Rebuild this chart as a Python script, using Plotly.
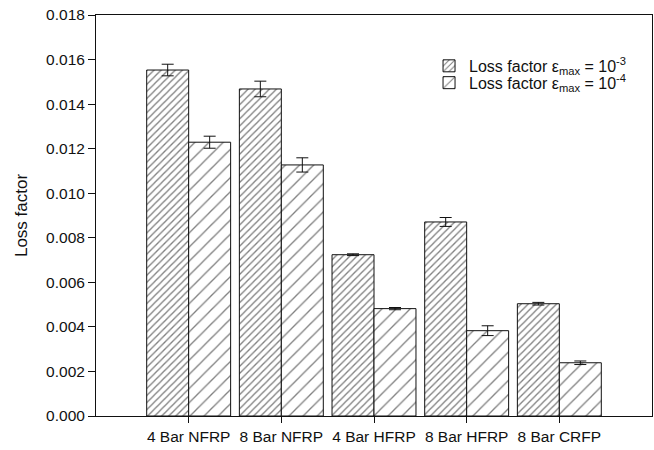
import plotly.graph_objects as go

# Loss factor per specimen configuration, at two peak strain amplitudes
categories = ["4 Bar NFRP", "8 Bar NFRP", "4 Bar HFRP", "8 Bar HFRP", "8 Bar CRFP"]
loss_e3 = [0.01553, 0.01468, 0.00724, 0.00871, 0.00504]
loss_e3_err = [0.00026, 0.00035, 0.00004, 0.00020, 0.00006]
loss_e4 = [0.01229, 0.01127, 0.00482, 0.00383, 0.00239]
loss_e4_err = [0.00027, 0.00032, 0.00005, 0.00022, 0.00008]
y_ticks = [0.000, 0.002, 0.004, 0.006, 0.008, 0.010, 0.012, 0.014, 0.016, 0.018]

FONT = "Liberation Sans, Arial, sans-serif"
INK = "#111111"


def hatched_bar(values, errors, name, spacing, solidity, legend):
    return go.Bar(
        x=categories,
        y=values,
        name=name,
        legend=legend,
        marker=dict(
            color="white",
            line=dict(color=INK, width=1),
            pattern=dict(shape="/", size=spacing, solidity=solidity,
                         fgcolor="black", bgcolor="white", fillmode="overlay"),
        ),
        error_y=dict(type="data", array=errors, color=INK, thickness=1, width=6),
    )


fig = go.Figure()
fig.add_trace(hatched_bar(loss_e3, loss_e3_err,
                          "Loss factor ε<sub>max</sub> = 10<sup>-3</sup>", 5, 0.26, "legend"))
fig.add_trace(hatched_bar(loss_e4, loss_e4_err,
                          "Loss factor ε<sub>max</sub> = 10<sup>-4</sup>", 10, 0.13, "legend2"))

legend_style = dict(
    xanchor="left", yanchor="middle",
    bgcolor="rgba(0,0,0,0)", font=dict(family=FONT, size=16, color=INK),
)

fig.update_layout(
    width=654,
    height=450,
    margin=dict(l=96, r=2, t=15, b=34),
    paper_bgcolor="white",
    plot_bgcolor="white",
    font=dict(family=FONT, size=15.5, color=INK),
    barmode="group",
    bargap=0.094,
    bargroupgap=0,
    showlegend=True,
    legend=dict(x=0.599, y=0.873, **legend_style),
    legend2=dict(x=0.599, y=0.831, **legend_style),
)

fig.update_xaxes(
    type="category",
    range=[-1, 5],
    showline=True, mirror=True, linecolor=INK, linewidth=1,
    ticks="outside", ticklen=6, tickcolor=INK, tickwidth=1,
    showgrid=False, zeroline=False,
    tickfont=dict(family=FONT, size=15.5, color=INK),
)
fig.update_yaxes(
    range=[0, 0.018],
    tickvals=y_ticks,
    tickformat=".3f",
    showline=True, mirror=True, linecolor=INK, linewidth=1,
    ticks="outside", ticklen=7, tickcolor=INK, tickwidth=1,
    showgrid=False, zeroline=False,
    tickfont=dict(family=FONT, size=15.5, color=INK),
    title=dict(text="Loss factor", font=dict(family=FONT, size=17, color=INK), standoff=14),
)

fig.write_html("out.html")
